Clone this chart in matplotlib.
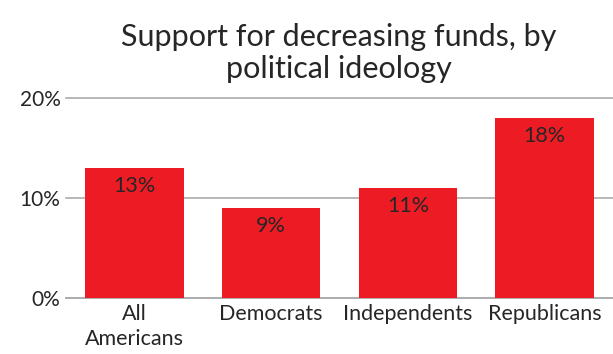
import matplotlib.pyplot as plt
import numpy as np

categories = ["All\nAmericans", "Democrats", "Independents", "Republicans"]
values = [13, 9, 11, 18]
yticks = [0, 10, 20]
title = "Support for decreasing funds, by\npolitical ideology"

plt.rcParams['font.family'] = ['Lato', 'DejaVu Sans']

fig = plt.figure(figsize=(6.13, 3.54), dpi=100)
ax = fig.add_axes([66 / 613, 56 / 354, 547 / 613, 200 / 354])

x = np.arange(len(categories))
bars = ax.bar(x, values, width=0.72, color='#ED1C24', zorder=3)

for b, v in zip(bars, values):
    ax.annotate("{}%".format(v), (b.get_x() + b.get_width() / 2, v),
                xytext=(0, -6), textcoords='offset points',
                ha='center', va='top', fontsize=15.5, color='#262626', zorder=4)

ax.set_xlim(-0.5, 3.5)
ax.set_ylim(0, 20)
ax.set_yticks(yticks)
ax.set_yticklabels(["{}%".format(t) for t in yticks], fontsize=15, color='#262626')
ax.set_xticks(x)
ax.set_xticklabels(categories, fontsize=15.5, color='#262626', linespacing=1.35)
ax.tick_params(length=0, pad=4)
ax.tick_params(axis='x', pad=4)

ax.grid(axis='y', color='#ABABAB', lw=1.2, zorder=0, clip_on=False)
for s in ['top', 'right', 'left']:
    ax.spines[s].set_visible(False)
ax.spines['bottom'].set_color('#ABABAB')
ax.spines['bottom'].set_linewidth(1.2)

fig.text(339 / 613, 1 - 53 / 354, title, ha='center', va='center',
         fontsize=22, color='#262626', linespacing=1.2)

fig.savefig('out.png', dpi=100)
